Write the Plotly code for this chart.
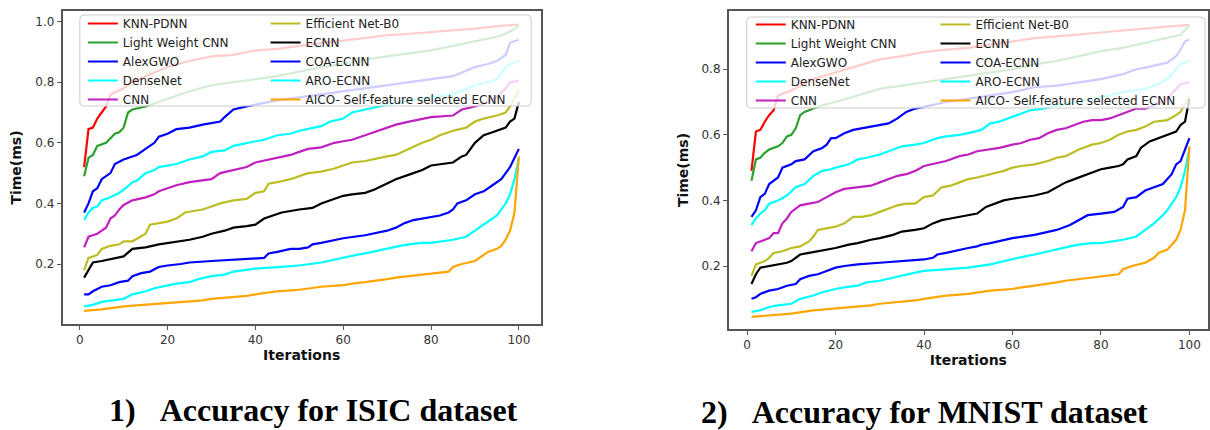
import plotly.graph_objects as go

# ---------------- data (iteration, time in ms) ----------------
SERIES_NAMES = ["KNN-PDNN", "Light Weight CNN", "AlexGWO", "DenseNet", "CNN",
                "Efficient Net-B0", "ECNN", "COA-ECNN", "ARO-ECNN",
                "AICO- Self-feature selected ECNN"]
X_TICKS = [0, 20, 40, 60, 80, 100]
CAPTIONS = ["1)\u00a0\u00a0\u00a0Accuracy for ISIC dataset", "2)\u00a0\u00a0\u00a0Accuracy for MNIST dataset"]

# ISIC dataset
isic_knn = [(1,0.52),(2,0.645),(3,0.65),(4,0.68),(5,0.70),(6,0.72),(7,0.76),(10,0.78),(12,0.80),(15,0.82),(20,0.85),(25,0.87),(30,0.885),(35,0.89),(40,0.905),(45,0.91),(50,0.92),(55,0.93),(60,0.937),(65,0.945),(70,0.955),(75,0.96),(80,0.965),(85,0.97),(90,0.977),(95,0.985),(98,0.988),(100,0.99)]
isic_lw = [(1,0.49),(2,0.55),(3,0.56),(4,0.59),(6,0.60),(8,0.63),(9,0.635),(10,0.65),(11,0.70),(12,0.71),(15,0.72),(20,0.745),(25,0.77),(30,0.79),(35,0.80),(40,0.81),(45,0.82),(50,0.835),(55,0.85),(60,0.86),(65,0.875),(70,0.885),(75,0.895),(80,0.905),(85,0.92),(90,0.935),(95,0.95),(97,0.96),(99,0.975),(100,0.99)]
isic_alex = [(1,0.37),(2,0.40),(3,0.44),(4,0.45),(5,0.48),(6,0.49),(7,0.50),(8,0.53),(10,0.545),(12,0.555),(13,0.56),(15,0.58),(17,0.60),(18,0.62),(20,0.63),(22,0.645),(25,0.65),(28,0.66),(30,0.665),(32,0.67),(33,0.685),(35,0.71),(38,0.72),(40,0.725),(45,0.74),(50,0.75),(55,0.76),(60,0.77),(65,0.78),(70,0.79),(75,0.80),(80,0.81),(85,0.82),(90,0.85),(93,0.86),(95,0.87),(97,0.89),(98,0.93),(100,0.94)]
isic_dense = [(1,0.345),(2,0.37),(3,0.385),(4,0.39),(5,0.41),(7,0.42),(9,0.435),(10,0.445),(12,0.47),(13,0.475),(15,0.50),(17,0.51),(18,0.52),(20,0.525),(22,0.53),(25,0.545),(28,0.555),(30,0.57),(33,0.575),(35,0.59),(38,0.60),(40,0.605),(42,0.61),(45,0.625),(48,0.63),(50,0.64),(55,0.655),(57,0.67),(60,0.68),(62,0.70),(65,0.71),(68,0.72),(70,0.725),(75,0.74),(80,0.75),(85,0.76),(90,0.79),(93,0.80),(95,0.81),(97,0.85),(98,0.86),(100,0.87)]
isic_cnn = [(1,0.255),(2,0.29),(3,0.295),(4,0.30),(5,0.31),(6,0.32),(7,0.35),(8,0.36),(9,0.38),(10,0.395),(12,0.41),(15,0.42),(17,0.43),(18,0.44),(20,0.45),(22,0.46),(25,0.47),(28,0.475),(30,0.48),(32,0.50),(35,0.51),(38,0.52),(40,0.535),(45,0.55),(48,0.56),(50,0.57),(52,0.58),(55,0.585),(58,0.60),(60,0.605),(62,0.61),(65,0.625),(68,0.64),(70,0.65),(72,0.66),(75,0.67),(78,0.68),(80,0.685),(85,0.69),(87,0.71),(90,0.72),(92,0.73),(95,0.75),(97,0.78),(98,0.80),(100,0.805)]
isic_eff = [(1,0.18),(2,0.22),(3,0.225),(4,0.23),(5,0.25),(7,0.26),(9,0.265),(10,0.275),(12,0.275),(14,0.29),(15,0.30),(16,0.33),(18,0.335),(20,0.34),(22,0.35),(24,0.37),(26,0.375),(28,0.38),(30,0.39),(32,0.40),(35,0.41),(38,0.415),(40,0.435),(42,0.44),(43,0.465),(45,0.47),(48,0.48),(50,0.49),(52,0.50),(55,0.505),(58,0.515),(60,0.525),(62,0.535),(65,0.54),(68,0.55),(70,0.555),(72,0.56),(75,0.58),(78,0.60),(80,0.61),(82,0.625),(85,0.64),(88,0.65),(90,0.67),(92,0.68),(95,0.69),(97,0.70),(98,0.72),(99,0.75),(100,0.775)]
isic_ecnn = [(1,0.155),(2,0.18),(3,0.205),(5,0.21),(7,0.215),(9,0.22),(10,0.225),(12,0.25),(15,0.255),(18,0.265),(20,0.27),(25,0.28),(28,0.29),(30,0.30),(33,0.31),(35,0.32),(38,0.325),(40,0.33),(42,0.35),(44,0.36),(46,0.37),(50,0.38),(53,0.385),(55,0.40),(58,0.415),(60,0.425),(62,0.43),(65,0.435),(67,0.445),(70,0.465),(72,0.48),(75,0.495),(78,0.51),(80,0.525),(82,0.53),(85,0.535),(87,0.555),(88,0.56),(90,0.60),(92,0.625),(94,0.635),(95,0.64),(97,0.65),(98,0.67),(99,0.68),(100,0.735)]
isic_coa = [(1,0.10),(2,0.10),(3,0.11),(5,0.125),(7,0.13),(9,0.14),(11,0.145),(12,0.16),(14,0.17),(16,0.175),(18,0.19),(20,0.195),(23,0.20),(25,0.205),(30,0.21),(35,0.215),(40,0.22),(42,0.22),(43,0.235),(45,0.24),(48,0.25),(50,0.25),(52,0.255),(53,0.265),(55,0.27),(58,0.28),(60,0.285),(65,0.295),(68,0.305),(70,0.31),(72,0.32),(74,0.335),(76,0.345),(78,0.35),(80,0.355),(82,0.36),(84,0.37),(85,0.38),(86,0.40),(88,0.41),(90,0.43),(92,0.44),(94,0.46),(95,0.47),(96,0.48),(97,0.50),(98,0.52),(99,0.55),(100,0.58)]
isic_aro = [(1,0.06),(3,0.065),(5,0.075),(7,0.08),(10,0.085),(12,0.10),(15,0.11),(17,0.12),(20,0.13),(22,0.135),(25,0.14),(27,0.15),(30,0.16),(33,0.165),(35,0.175),(38,0.18),(40,0.185),(45,0.19),(50,0.195),(55,0.205),(58,0.215),(60,0.22),(63,0.23),(65,0.235),(68,0.245),(70,0.25),(73,0.26),(75,0.265),(78,0.27),(80,0.27),(83,0.275),(85,0.28),(88,0.29),(90,0.31),(92,0.33),(94,0.35),(95,0.36),(96,0.38),(97,0.40),(98,0.43),(99,0.48),(100,0.55)]
isic_aico = [(1,0.045),(5,0.05),(10,0.06),(15,0.065),(20,0.07),(25,0.075),(28,0.08),(30,0.085),(35,0.09),(38,0.095),(40,0.10),(43,0.105),(45,0.11),(50,0.115),(53,0.12),(55,0.125),(60,0.13),(62,0.135),(65,0.14),(68,0.145),(70,0.15),(72,0.155),(75,0.16),(78,0.165),(80,0.17),(84,0.175),(85,0.19),(87,0.20),(90,0.21),(92,0.23),(93,0.24),(95,0.25),(96,0.26),(97,0.28),(98,0.31),(99,0.37),(100,0.555)]

# MNIST dataset
mnist_knn = [(1,0.49),(2,0.61),(3,0.615),(4,0.64),(5,0.66),(6,0.675),(7,0.72),(10,0.735),(15,0.77),(20,0.79),(25,0.81),(30,0.83),(35,0.84),(40,0.852),(45,0.86),(50,0.865),(55,0.875),(60,0.885),(65,0.895),(70,0.90),(75,0.905),(80,0.912),(85,0.918),(90,0.925),(95,0.93),(100,0.935)]
mnist_lw = [(1,0.46),(2,0.525),(3,0.53),(4,0.545),(5,0.555),(7,0.565),(8,0.575),(9,0.595),(10,0.60),(11,0.62),(12,0.66),(13,0.67),(15,0.68),(17,0.69),(20,0.70),(25,0.72),(30,0.74),(35,0.75),(40,0.76),(45,0.77),(50,0.78),(55,0.79),(60,0.80),(65,0.815),(70,0.825),(75,0.84),(80,0.855),(85,0.865),(90,0.88),(95,0.895),(98,0.905),(100,0.935)]
mnist_alex = [(1,0.35),(2,0.37),(3,0.41),(4,0.42),(5,0.45),(6,0.46),(7,0.47),(8,0.50),(10,0.51),(11,0.52),(13,0.525),(15,0.55),(17,0.56),(18,0.57),(19,0.59),(20,0.59),(22,0.605),(24,0.615),(26,0.62),(28,0.625),(30,0.63),(32,0.635),(34,0.65),(36,0.67),(38,0.68),(40,0.685),(45,0.70),(50,0.71),(55,0.72),(60,0.73),(65,0.745),(70,0.75),(75,0.76),(80,0.77),(85,0.785),(88,0.80),(90,0.805),(93,0.815),(95,0.82),(97,0.84),(98,0.86),(99,0.885),(100,0.89)]
mnist_dense = [(1,0.325),(2,0.345),(3,0.36),(4,0.37),(5,0.39),(7,0.40),(9,0.415),(11,0.44),(13,0.45),(15,0.475),(17,0.49),(19,0.495),(20,0.50),(23,0.51),(25,0.525),(27,0.53),(30,0.54),(32,0.55),(35,0.565),(38,0.57),(40,0.575),(43,0.59),(45,0.595),(48,0.60),(50,0.605),(53,0.615),(55,0.635),(57,0.64),(60,0.655),(62,0.665),(64,0.675),(67,0.68),(70,0.69),(75,0.70),(80,0.715),(85,0.73),(90,0.74),(93,0.755),(95,0.77),(97,0.80),(98,0.815),(100,0.825)]
mnist_cnn = [(1,0.245),(2,0.27),(3,0.275),(5,0.285),(6,0.30),(7,0.30),(8,0.33),(9,0.345),(10,0.365),(12,0.385),(14,0.39),(16,0.395),(18,0.41),(20,0.425),(22,0.435),(25,0.44),(28,0.445),(30,0.455),(32,0.465),(34,0.475),(36,0.48),(38,0.49),(40,0.505),(43,0.515),(45,0.52),(48,0.535),(50,0.54),(52,0.55),(55,0.555),(57,0.56),(60,0.57),(62,0.575),(64,0.585),(66,0.59),(68,0.605),(70,0.615),(72,0.62),(74,0.63),(76,0.64),(78,0.645),(80,0.645),(82,0.65),(84,0.66),(86,0.67),(88,0.68),(90,0.68),(92,0.69),(95,0.71),(97,0.74),(98,0.755),(100,0.76)]
mnist_eff = [(1,0.17),(2,0.205),(3,0.21),(4,0.215),(5,0.225),(6,0.24),(8,0.245),(10,0.255),(12,0.26),(14,0.275),(15,0.29),(16,0.31),(18,0.315),(20,0.32),(22,0.33),(24,0.35),(26,0.35),(28,0.355),(30,0.365),(32,0.375),(34,0.385),(36,0.39),(38,0.39),(40,0.41),(42,0.415),(44,0.44),(46,0.445),(48,0.455),(50,0.465),(52,0.47),(55,0.48),(58,0.49),(60,0.50),(62,0.505),(65,0.51),(68,0.52),(70,0.53),(72,0.535),(75,0.555),(78,0.57),(80,0.575),(82,0.585),(84,0.60),(86,0.61),(88,0.615),(90,0.625),(92,0.64),(95,0.645),(97,0.66),(98,0.67),(99,0.695),(100,0.72)]
mnist_ecnn = [(1,0.145),(2,0.175),(3,0.195),(5,0.20),(7,0.205),(9,0.21),(10,0.215),(12,0.235),(14,0.24),(16,0.245),(18,0.25),(20,0.255),(23,0.265),(25,0.27),(28,0.28),(30,0.285),(33,0.295),(35,0.305),(38,0.31),(40,0.315),(42,0.33),(44,0.34),(46,0.345),(48,0.35),(50,0.355),(52,0.36),(54,0.38),(56,0.39),(58,0.40),(60,0.405),(63,0.41),(65,0.415),(68,0.425),(70,0.44),(72,0.455),(74,0.465),(76,0.475),(78,0.485),(80,0.495),(82,0.50),(84,0.505),(85,0.51),(86,0.525),(88,0.535),(89,0.56),(91,0.58),(93,0.59),(95,0.60),(97,0.61),(98,0.63),(99,0.64),(100,0.71)]
mnist_coa = [(1,0.10),(2,0.105),(3,0.115),(5,0.125),(7,0.13),(9,0.14),(11,0.145),(12,0.16),(14,0.17),(16,0.175),(18,0.185),(20,0.195),(22,0.20),(25,0.205),(30,0.21),(35,0.215),(40,0.22),(42,0.225),(43,0.235),(45,0.24),(48,0.25),(50,0.255),(52,0.26),(53,0.265),(55,0.27),(58,0.28),(60,0.285),(65,0.295),(68,0.305),(70,0.31),(73,0.325),(75,0.34),(77,0.355),(80,0.36),(83,0.365),(85,0.38),(86,0.405),(88,0.41),(90,0.43),(92,0.44),(94,0.45),(95,0.465),(96,0.48),(97,0.51),(98,0.52),(99,0.555),(100,0.59)]
mnist_aro = [(1,0.06),(3,0.065),(5,0.075),(7,0.08),(10,0.085),(12,0.10),(15,0.11),(17,0.12),(20,0.13),(22,0.135),(25,0.14),(27,0.15),(30,0.155),(33,0.165),(35,0.17),(38,0.18),(40,0.185),(45,0.19),(50,0.195),(55,0.205),(58,0.215),(60,0.22),(63,0.23),(65,0.235),(68,0.245),(70,0.25),(73,0.26),(75,0.265),(78,0.27),(80,0.27),(83,0.275),(85,0.28),(88,0.29),(90,0.31),(92,0.33),(94,0.355),(95,0.37),(96,0.39),(97,0.41),(98,0.44),(99,0.49),(100,0.56)]
mnist_aico = [(1,0.045),(5,0.05),(10,0.055),(15,0.065),(20,0.07),(25,0.075),(28,0.08),(30,0.085),(35,0.09),(38,0.095),(40,0.10),(43,0.105),(45,0.11),(50,0.115),(53,0.12),(55,0.125),(60,0.13),(62,0.135),(65,0.14),(68,0.145),(70,0.15),(72,0.155),(75,0.16),(78,0.165),(80,0.17),(84,0.175),(85,0.19),(87,0.20),(90,0.21),(92,0.225),(93,0.24),(95,0.25),(96,0.265),(97,0.28),(98,0.31),(99,0.37),(100,0.565)]

ISIC = [isic_knn, isic_lw, isic_alex, isic_dense, isic_cnn, isic_eff, isic_ecnn, isic_coa, isic_aro, isic_aico]
MNIST = [mnist_knn, mnist_lw, mnist_alex, mnist_dense, mnist_cnn, mnist_eff, mnist_ecnn, mnist_coa, mnist_aro, mnist_aico]

# ---------------- styling ----------------
COLORS = ["#ff0000", "#2ca02c", "#0000ff", "#00ffff", "#c020c0",
          "#bcbd22", "#000000", "#0000ff", "#00ffff", "#ffa500"]
W, H = 1210, 430

def px_x(p):
    return p / W

def px_y(p):
    return 1 - p / H

fig = go.Figure()

panels = [
    dict(data=ISIC, xa="x", ya="y", legends=("legend", "legend2")),
    dict(data=MNIST, xa="x2", ya="y2", legends=("legend3", "legend4")),
]
for pnl in panels:
    for i, (name, series) in enumerate(zip(SERIES_NAMES, pnl["data"])):
        fig.add_trace(go.Scatter(
            x=[p[0] for p in series], y=[p[1] for p in series],
            mode="lines", name=name,
            line=dict(color=COLORS[i], width=2.2),
            xaxis=pnl["xa"], yaxis=pnl["ya"],
            legend=pnl["legends"][0] if i < 5 else pnl["legends"][1],
        ))

axis_common = dict(
    showline=True, mirror=True, linecolor="#555555", linewidth=1.6,
    ticks="outside", ticklen=4, tickwidth=1.3, tickcolor="#555555",
    showgrid=False, zeroline=False,
    tickfont=dict(family="DejaVu Sans", size=12, color="#333333"),
)
title_font = dict(family="DejaVu Sans", size=14, color="#111111", weight="bold")

fig.update_layout(
    width=W, height=H,
    margin=dict(l=0, r=0, t=0, b=0),
    paper_bgcolor="white", plot_bgcolor="white",
    xaxis=dict(domain=[px_x(62.7), px_x(541.7)], range=[-3.9, 105.0], anchor="y",
               tickvals=X_TICKS, title=dict(text="Iterations", font=title_font, standoff=4),
               **axis_common),
    yaxis=dict(domain=[px_y(324), px_y(11)], range=[0.002, 1.035], anchor="x",
               tickvals=[0.2, 0.4, 0.6, 0.8, 1.0], tickformat=".1f",
               title=dict(text="Time(ms)", font=title_font, standoff=10),
               **axis_common),
    xaxis2=dict(domain=[px_x(730), 1.0], range=[-4.13, 104.2], anchor="y2",
                tickvals=X_TICKS, title=dict(text="Iterations", font=title_font, standoff=4),
                **axis_common),
    yaxis2=dict(domain=[px_y(329), px_y(11)], range=[0.008, 0.9775], anchor="x2",
                tickvals=[0.2, 0.4, 0.6, 0.8], tickformat=".1f",
                title=dict(text="Time(ms)", font=title_font, standoff=10),
                **axis_common),
)

leg_common = dict(bgcolor="rgba(0,0,0,0)", borderwidth=0, xanchor="left", yanchor="top",
                  font=dict(family="DejaVu Sans", size=12, color="#222222"),
                  orientation="v", tracegroupgap=0)
fig.update_layout(
    legend=dict(x=px_x(83), y=px_y(9), **leg_common),
    legend2=dict(x=px_x(266), y=px_y(9), **leg_common),
    legend3=dict(x=px_x(752), y=px_y(10), **leg_common),
    legend4=dict(x=px_x(937), y=px_y(10), **leg_common),
)

# semi-transparent rounded legend frames (fade the lines beneath, like matplotlib's legend box)
def rounded_rect(x0, x1, y0, y1, r=4):
    ax0, ax1 = px_x(x0), px_x(x1)
    ay0, ay1 = px_y(y0), px_y(y1)   # ay0 = top, ay1 = bottom (paper units)
    rx, ry = r / W, r / H
    return (f"M{ax0+rx},{ay0} L{ax1-rx},{ay0} Q{ax1},{ay0} {ax1},{ay0-ry} "
            f"L{ax1},{ay1+ry} Q{ax1},{ay1} {ax1-rx},{ay1} "
            f"L{ax0+rx},{ay1} Q{ax0},{ay1} {ax0},{ay1+ry} "
            f"L{ax0},{ay0-ry} Q{ax0},{ay0} {ax0+rx},{ay0} Z")

for (x0, x1, y0, y1) in [(80, 532, 15, 106), (748, 1207, 17, 108)]:
    fig.add_shape(type="path", xref="paper", yref="paper", path=rounded_rect(x0, x1, y0, y1),
                  fillcolor="rgba(255,255,255,0.8)", line=dict(color="#cccccc", width=1),
                  layer="above")

cap_font = dict(family="Liberation Serif", size=32, color="#000000", weight="bold")
for text, cx, cy in [(CAPTIONS[0], 314, 410), (CAPTIONS[1], 926.5, 412)]:
    fig.add_annotation(text=text, xref="paper", yref="paper", x=px_x(cx), y=px_y(cy),
                       xanchor="center", yanchor="middle", showarrow=False, font=cap_font)

fig.write_html("out.html", post_script="document.body.style.margin='0';",
               config={"displayModeBar": False})
